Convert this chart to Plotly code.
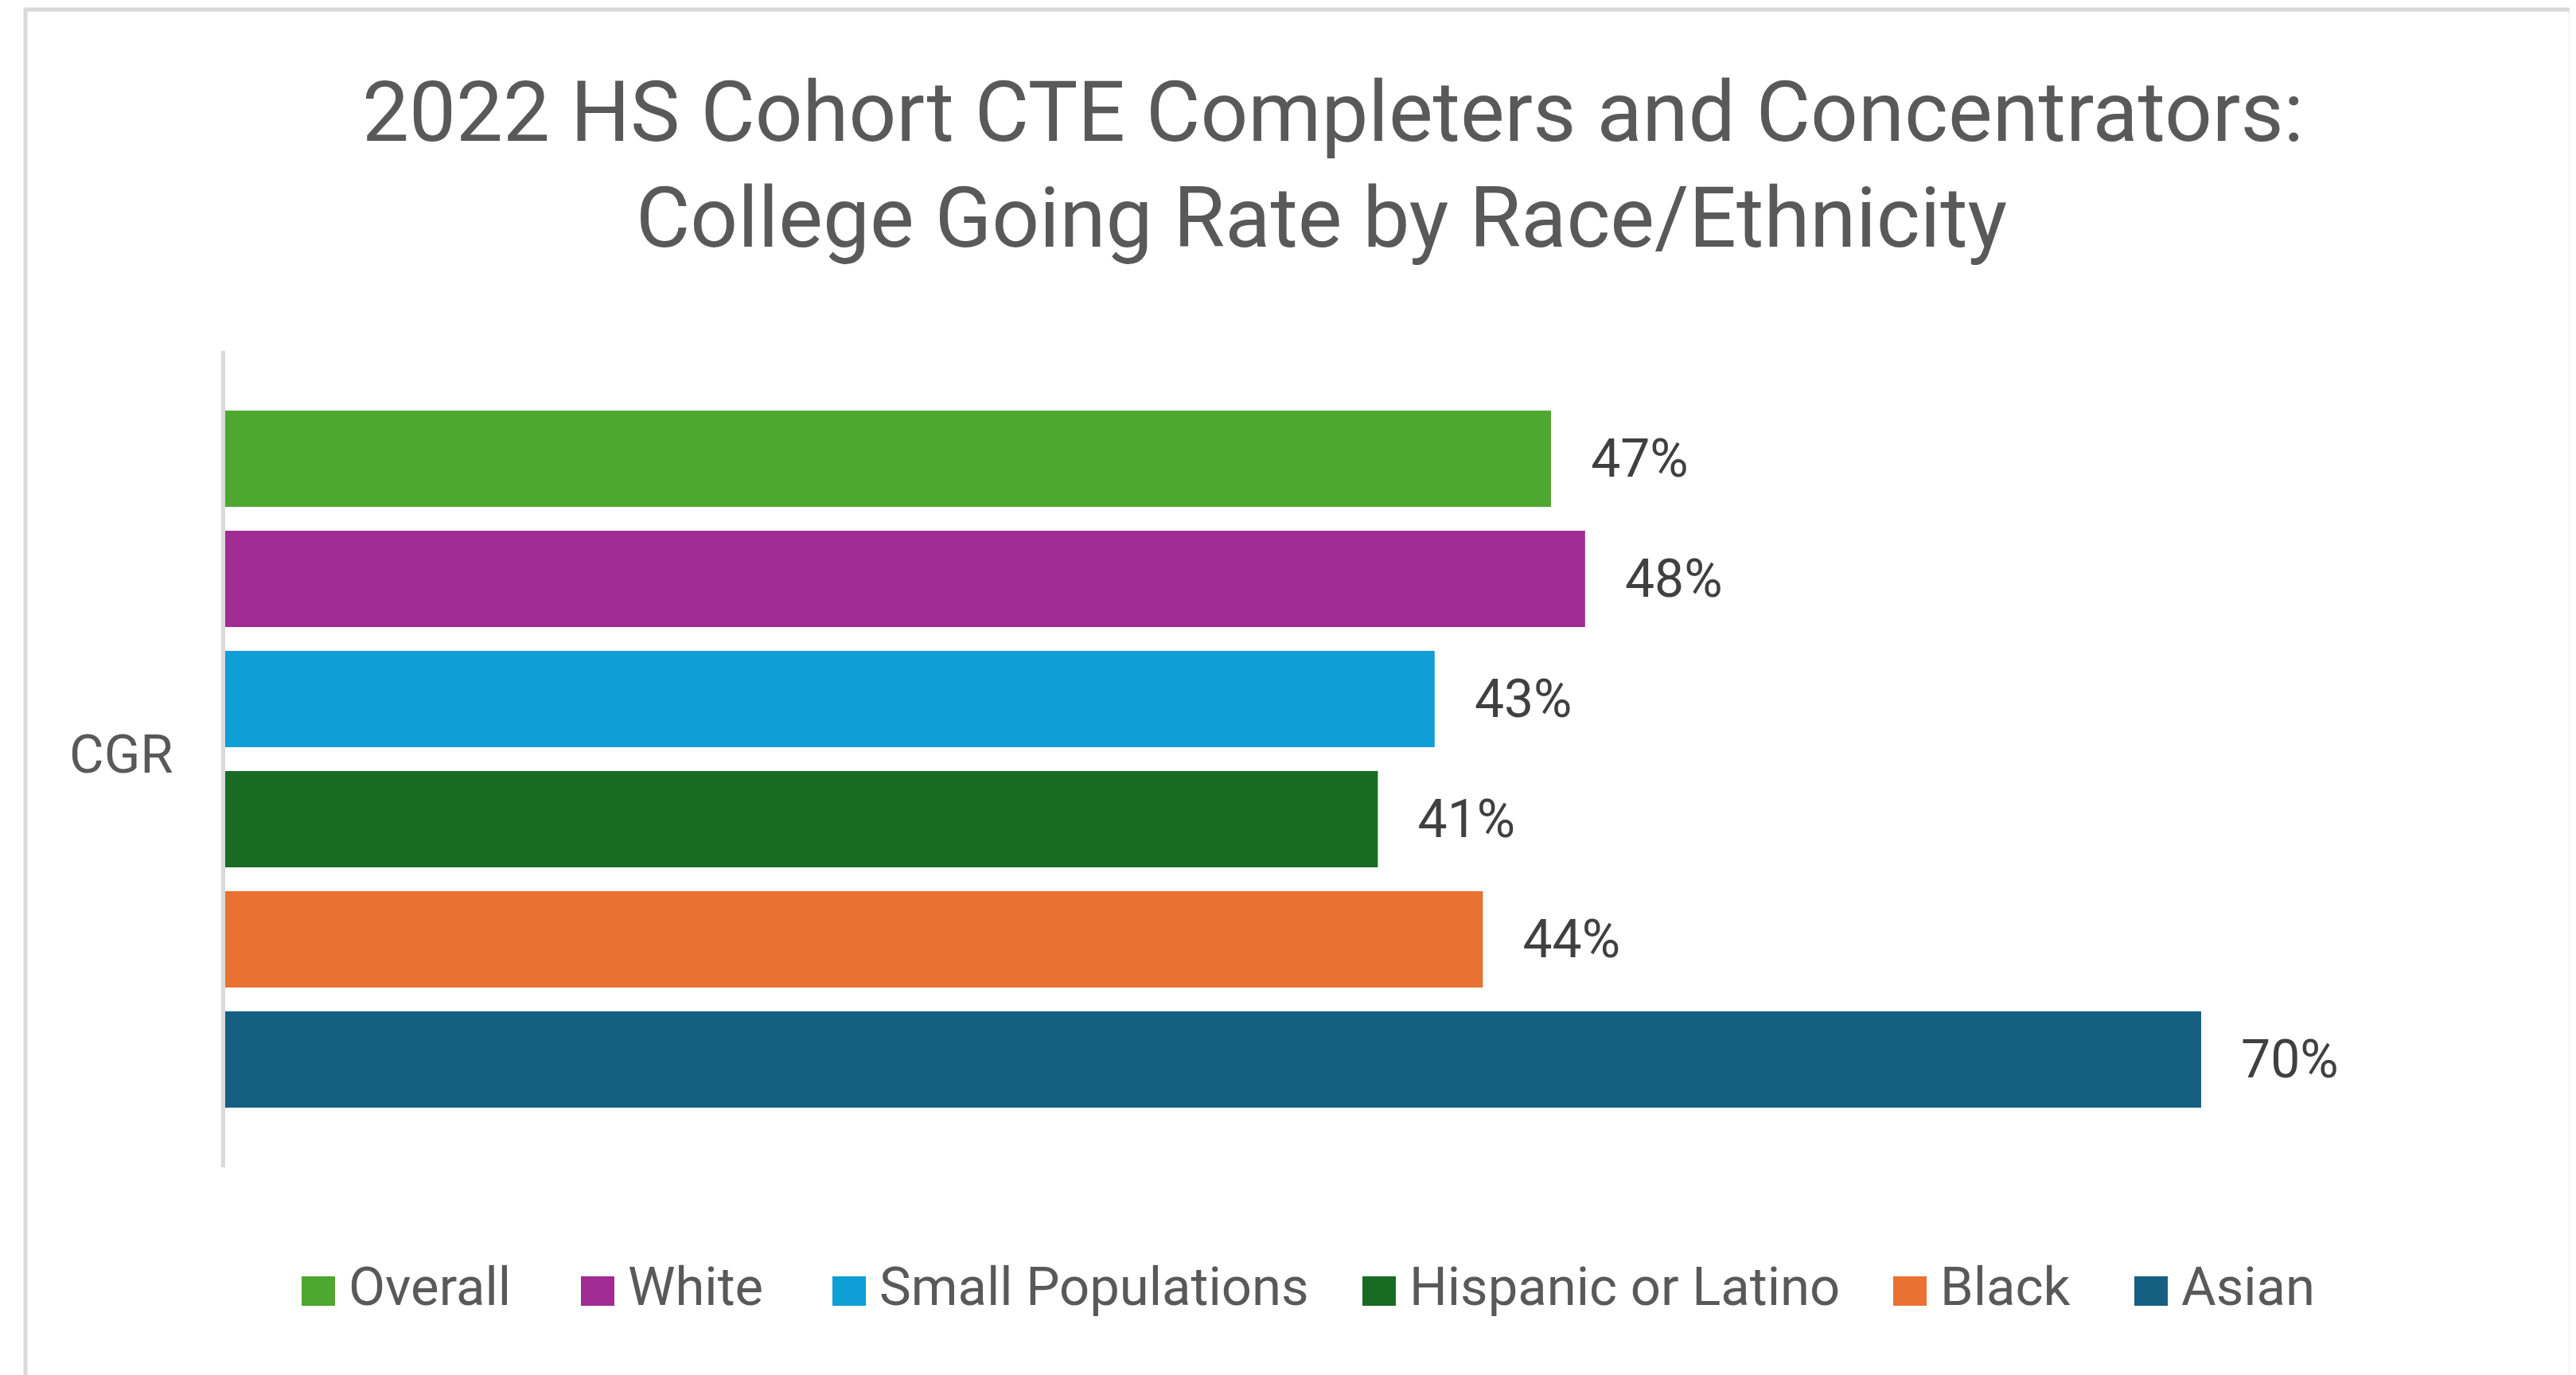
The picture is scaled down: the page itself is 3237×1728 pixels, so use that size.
import plotly.graph_objects as go

# ---- data ----
categories = ["CGR"]
groups = ["Overall", "White", "Small Populations", "Hispanic or Latino", "Black", "Asian"]
rates = [0.467, 0.479, 0.426, 0.406, 0.443, 0.696]
colors = ["#4EA72E", "#A02B93", "#0F9ED5", "#196B24", "#E97132", "#156082"]
title_lines = ["2022 HS Cohort CTE Completers and Concentrators:",
               "College Going Rate by Race/Ethnicity"]

# ---- layout geometry (screen pixels; page body has an 8px margin) ----
OFF = 8
W, H = 3237 - OFF, 1728 - OFF
PLOT_L, PLOT_R, PLOT_T, PLOT_B = 283, 3137, 441, 1467   # target screen coords
L = PLOT_L - OFF
T = PLOT_T - OFF
R = W - (PLOT_R - OFF)
B = H - (PLOT_B - OFF)
PW = W - L - R
PH = H - T - B


def px_x(sx):
    return (sx - OFF - L) / PW


def px_y(sy):
    return 1 - (sy - OFF - T) / PH


FONT = "Roboto"
GREY = "#595959"

fig = go.Figure()
for g, v, c in zip(groups, rates, colors):
    fig.add_trace(go.Bar(
        x=[v], y=categories, name=g, orientation="h",
        marker=dict(color=c, line=dict(width=0)),
        texttemplate="\u2002\u2009%{x:.0%}",
        textposition="outside",
        textfont=dict(family=FONT, size=66, color="#404040"),
        cliponaxis=False, constraintext="none",
        showlegend=False, hoverinfo="skip",
    ))

shapes = []
annotations = []

# title, one annotation per line
title_centers = [1675, 1660]
title_mid_y = [178 - 36, 310 - 36]
for txt, cx, cy in zip(title_lines, title_centers, title_mid_y):
    annotations.append(dict(text=txt, xref="paper", yref="paper",
                            x=px_x(cx), y=px_y(cy), xanchor="center", yanchor="middle",
                            showarrow=False,
                            font=dict(family=FONT, size=105, color=GREY)))

# custom legend (large square keys like the original)
legend_key_x = [379, 730, 1046, 1712, 2379, 2682]
key_w, key_top, key_bot = 42, 1604, 1641
for g, c, kx in zip(groups, colors, legend_key_x):
    shapes.append(dict(type="rect", xref="paper", yref="paper",
                       x0=px_x(kx), x1=px_x(kx + key_w),
                       y0=px_y(key_bot), y1=px_y(key_top),
                       fillcolor=c, line=dict(width=0)))
    annotations.append(dict(text=g, xref="paper", yref="paper",
                            x=px_x(kx + 57), y=px_y(1617),
                            xanchor="left", yanchor="middle", showarrow=False,
                            font=dict(family=FONT, size=67, color=GREY)))

# chart frame
shapes.append(dict(type="rect", xref="paper", yref="paper",
                   x0=px_x(32), x1=px_x(3231), y0=px_y(1740), y1=px_y(12),
                   line=dict(color="#D9D9D9", width=5), fillcolor="rgba(0,0,0,0)",
                   layer="below"))

fig.update_layout(
    width=W, height=H,
    margin=dict(l=L, r=R, t=T, b=B, pad=0),
    paper_bgcolor="white", plot_bgcolor="white",
    barmode="group", bargap=0.117, bargroupgap=0.2,
    xaxis=dict(visible=False, range=[0, 0.8], fixedrange=True),
    yaxis=dict(type="category", range=[0.5, -0.5], showline=True,
               linecolor="#D9D9D9", linewidth=5, ticks="", showgrid=False,
               zeroline=False, automargin=False, ticklabelstandoff=47,
               ticklabelshift=6,
               tickfont=dict(family=FONT, size=67, color=GREY)),
    shapes=shapes, annotations=annotations,
    showlegend=False,
)

fig.write_html("out.html")
